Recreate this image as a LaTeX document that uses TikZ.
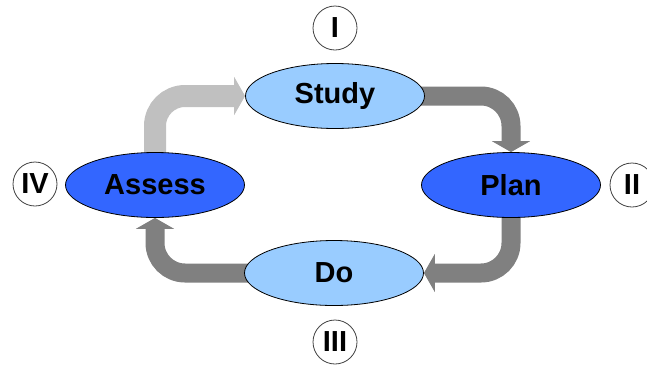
\documentclass[tikz,border=0pt]{standalone}
\usepackage{fontspec}
\setmainfont{Liberation Sans}
\usetikzlibrary{arrows.meta,backgrounds}
\definecolor{lightblue}{HTML}{99CCFF}
\definecolor{deepblue}{HTML}{3366FF}
\definecolor{bandgray}{HTML}{808080}
\definecolor{bandlight}{HTML}{C0C0C0}
\tikzset{
  phase/.style={ellipse, draw=black, line width=0.8pt, minimum width=179pt,
    minimum height=65pt, inner sep=0pt,
    font=\fontsize{29}{34}\selectfont\bfseries},
  stage/.style={circle, draw=black!75, line width=0.8pt, fill=white,
    minimum size=44pt, inner sep=0pt,
    font=\fontsize{29}{34}\selectfont\bfseries},
  band/.style={draw=bandgray, line width=19pt, rounded corners=30pt,
    -{Triangle[length=11pt,width=38pt]}},
  lightband/.style={band, draw=bandlight, line width=22pt},
}
\usetikzlibrary{shapes.geometric}
\begin{document}
\begin{tikzpicture}[x=1pt,y=-1pt]
  \useasboundingbox (0,0) rectangle (647,365);

  % the four phases of the cycle
  \node[phase, fill=lightblue] (study)  at (335,96)  {Study};
  \node[phase, fill=deepblue]  (plan)   at (511,185) {Plan};
  \node[phase, fill=lightblue] (do)     at (334,273) {Do};
  \node[phase, fill=deepblue]  (assess) at (155,185) {Assess};

  % numbered stage markers
  \node[stage] (n1) at (335,28)  {I};
  \node[stage] (n2) at (632,185) {II};
  \node[stage] (n3) at (335,342) {III};
  \node[stage] (n4) at (35,184)  {IV};

  % cycle arrows behind the ellipses
  \begin{scope}[on background layer]
    \draw[band] (study.center) -| (plan.north);
    \draw[band] (plan.center) |- (do.east);
    \draw[band] (do.center) -| (assess.south);
    \draw[lightband] (assess.center) |- (study.west);
  \end{scope}
\end{tikzpicture}
\end{document}
